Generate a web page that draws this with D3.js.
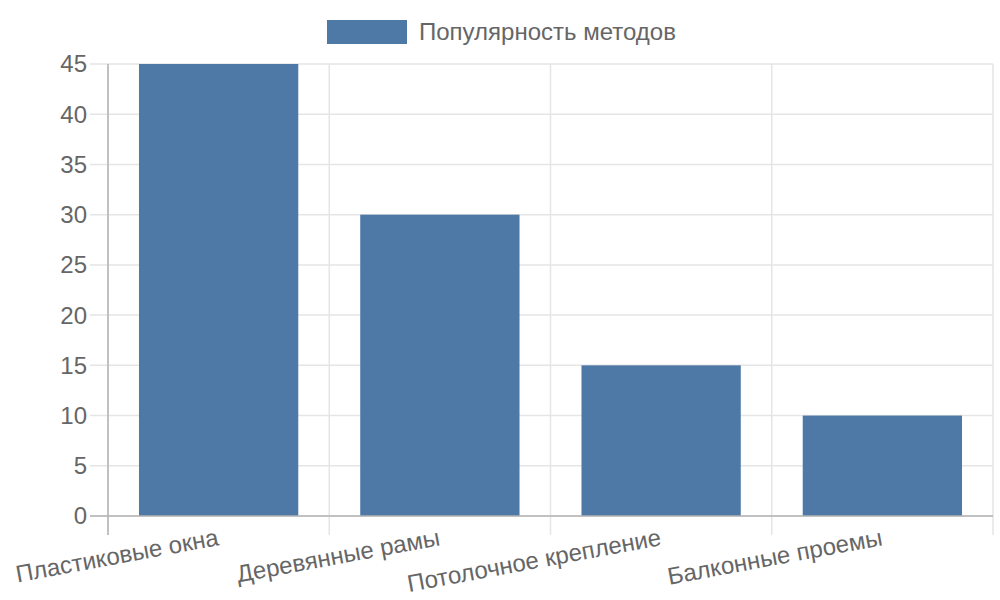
<!DOCTYPE html>
<html>
<head>
<meta charset="utf-8">
<script src="https://cdn.jsdelivr.net/npm/d3@7"></script>
<style>
  body { margin: 0; background: #fff; }
  text { font-family: "Liberation Sans", Arial, sans-serif; fill: #666; }
</style>
</head>
<body>
<div id="chart"></div>
<script>
// données du graphique
const categories = ["Пластиковые окна", "Деревянные рамы", "Потолочное крепление", "Балконные проемы"];
const values = [45, 30, 15, 10];
const yTicks = [0, 5, 10, 15, 20, 25, 30, 35, 40, 45];
const seriesName = "Популярность методов";

const width = 1000;
const height = 600;
const margin = {top: 64, right: 7, bottom: 84, left: 108};
const barColor = "#4e79a7";
const fontSize = "24px";

const svg = d3.select("#chart")
  .append("svg")
  .attr("width", width)
  .attr("height", height);

const x = d3.scaleBand()
  .domain(categories)
  .range([margin.left, width - margin.right])
  .paddingInner(0)
  .paddingOuter(0);

const y = d3.scaleLinear()
  .domain([0, 45])
  .range([height - margin.bottom, margin.top]);

// grille horizontale + petits traits à gauche
svg.append("g")
  .selectAll("line")
  .data(yTicks)
  .join("line")
  .attr("x1", margin.left - 18)
  .attr("x2", width - margin.right)
  .attr("y1", d => y(d))
  .attr("y2", d => y(d))
  .attr("stroke", "#e5e5e5")
  .attr("stroke-width", 1.5);

// grille verticale (bords des catégories)
const xEdges = categories.map(c => x(c)).concat([x(categories[categories.length - 1]) + x.bandwidth()]);
svg.append("g")
  .selectAll("line")
  .data(xEdges)
  .join("line")
  .attr("x1", d => d)
  .attr("x2", d => d)
  .attr("y1", margin.top)
  .attr("y2", height - margin.bottom + 19)
  .attr("stroke", "#e5e5e5")
  .attr("stroke-width", 1.5);

// barres : 80% de la catégorie * 90%
const barW = x.bandwidth() * 0.72;
svg.append("g")
  .selectAll("rect")
  .data(values)
  .join("rect")
  .attr("x", (d, i) => x(categories[i]) + (x.bandwidth() - barW) / 2)
  .attr("y", d => y(d))
  .attr("width", barW)
  .attr("height", d => y(0) - y(d))
  .attr("fill", barColor);

// axes
svg.append("line")
  .attr("x1", margin.left).attr("x2", margin.left)
  .attr("y1", margin.top).attr("y2", height - margin.bottom + 19)
  .attr("stroke", "#b3b3b3").attr("stroke-width", 1.5);
svg.append("line")
  .attr("x1", margin.left - 18).attr("x2", width - margin.right)
  .attr("y1", y(0)).attr("y2", y(0))
  .attr("stroke", "#b3b3b3").attr("stroke-width", 1.5);

// étiquettes Y
svg.append("g")
  .selectAll("text")
  .data(yTicks)
  .join("text")
  .attr("x", margin.left - 21)
  .attr("y", d => y(d))
  .attr("dy", "0.35em")
  .attr("text-anchor", "end")
  .style("font-size", fontSize)
  .text(d => d);

// étiquettes X pivotées
svg.append("g")
  .selectAll("text")
  .data(categories)
  .join("text")
  .attr("transform", d => `translate(${x(d) + x.bandwidth() / 2 + 1},${height - margin.bottom + 29}) rotate(-10.5)`)
  .attr("text-anchor", "end")
  .style("font-size", fontSize)
  .text(d => d);

// légende
const legend = svg.append("g");
legend.append("rect")
  .attr("x", 327).attr("y", 20)
  .attr("width", 80).attr("height", 24)
  .attr("fill", barColor);
legend.append("text")
  .attr("x", 419).attr("y", 32)
  .attr("dy", "0.35em")
  .style("font-size", fontSize)
  .text(seriesName);
</script>
</body>
</html>
